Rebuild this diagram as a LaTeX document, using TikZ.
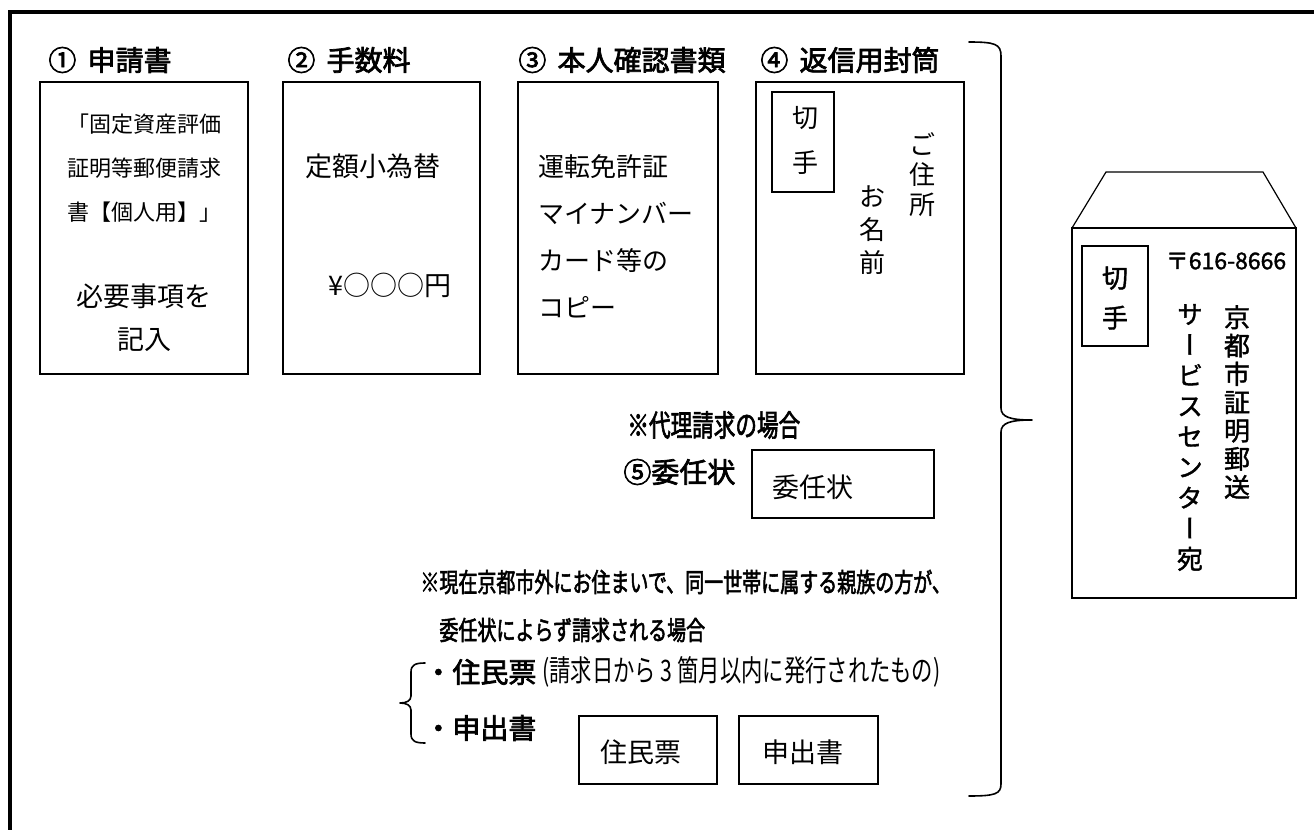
\documentclass[tikz,border=0pt]{standalone}
\usepackage{fontspec}
\setmainfont{Noto Sans CJK JP}
\newfontfamily\medfont{Noto Sans CJK JP}[FakeBold=2.5]
\newfontfamily\condfont{Noto Sans CJK JP}[FakeStretch=0.72]
\newfontfamily\condmedfont{Noto Sans CJK JP}[FakeStretch=0.72, FakeBold=2]
\newfontfamily\vertmedfont{Noto Sans CJK JP}[RawFeature=+vert, FakeBold=1.5]
\newfontfamily\envfont{Noto Sans CJK JP}[FakeBold=1.5]

\begin{document}
\begin{tikzpicture}[x=0.5pt, y=-0.5pt,
	thinbox/.style={line width=0.6pt},
	braceline/.style={line width=0.8pt, line cap=round, line join=round},
	head/.style={anchor=west, inner sep=0pt, font=\medfont\fontsize{14}{16}\selectfont},
	body/.style={inner sep=0pt, font=\fontsize{13.5}{16}\selectfont},
	note/.style={anchor=west, inner sep=0pt, font=\condmedfont\fontsize{13.2}{15}\selectfont},
	vcol/.style={inner sep=0pt, align=center},
]

% parameters %{{{2

	\def\boxtop{82}
	\def\boxbot{374}
	\def\headrow{60}

% bounding box, frame %{{{2

	\useasboundingbox (0,0) rectangle (1314,830);
	\draw[line width=2pt] (9.5,830) -- (9.5,12) -- (1314,12);

% documents 1--4 %{{{2

	\foreach \i/\xa/\xb/\xh/\lbl in {1/40/248/48/{①\hspace{0.4em}申請書}, 2/283/480/287/{②\hspace{0.4em}手数料},
			3/518/718/518/{③\hspace{0.4em}本人確認書類}, 4/756/964/760/{④\hspace{0.4em}返信用封筒}} {
		\draw[thinbox] (\xa,\boxtop) rectangle (\xb,\boxbot);
		\node[head] (head\i) at (\xh,\headrow) {\lbl};
	}

% document texts %{{{2

	\node[body, anchor=west, align=left, font=\fontsize{11}{22}\selectfont] (form) at (67,168) {「固定資産評価\\証明等郵便請求\\書【個人用】」};
	\node[body, align=center, font=\fontsize{13.5}{21.5}\selectfont] (fill) at (144,318) {必要事項を\\記入};

	\node[body, anchor=west] (order) at (305,166) {定額小為替};
	\node[body, anchor=west] (fee) at (328,285) {¥○○○円};

	\node[body, anchor=west, align=left, font=\fontsize{13}{23.5}\selectfont] (idcopy) at (538,236.5) {運転免許証\\マイナンバー\\カード等の\\コピー};

	\draw[thinbox] (772,92) rectangle (834,192);
	\node[vcol, font=\fontsize{13}{22.5}\selectfont] (stamp) at (805,140.5) {切\\手};
	\node[vcol, font=\fontsize{13}{15}\selectfont] (addr) at (922,175) {ご\\住\\所};
	\node[vcol, font=\fontsize{13}{16.5}\selectfont] (name) at (872,230) {お\\名\\前};

% big brace %{{{2

	\coordinate (btop) at (969,42);
	\coordinate (btip) at (1032,420);
	\coordinate (bbot) at (969,796);

	\draw[braceline] (btop) .. controls (995,42) and (1001,44) .. (1001,56)
		-- (1001,408) .. controls (1001,417) and (1010,420) .. (btip)
		.. controls (1010,420) and (1001,423) .. (1001,432)
		-- (1001,784) .. controls (1001,794) and (995,796) .. (bbot);

% envelope %{{{2

	\draw[thinbox] (1072,228) rectangle (1296,598);
	\draw[thinbox] (1072,228) -- (1106,172) -- (1263,172) -- (1296,228);
	\draw[thinbox] (1082,246) rectangle (1148,346);

	\node[vcol, font=\envfont\fontsize{13}{20}\selectfont] (envstamp) at (1115,298) {切\\手};
	\node[inner sep=0pt, font=\envfont\fontsize{11.5}{13}\selectfont] (zip) at (1226,261) {〒616-8666};
	\node[vcol, font=\envfont\fontsize{13}{14.15}\selectfont] (office) at (1237,402) {京\\都\\市\\証\\明\\郵\\送};
	\node[vcol, font=\vertmedfont\fontsize{13}{15.3}\selectfont] (centre) at (1190,437.5) {サ\\ー\\ビ\\ス\\セ\\ン\\タ\\ー\\宛};

% proxy %{{{2

	\node[note, font=\condmedfont\fontsize{15}{17}\selectfont] (proxy) at (627,425) {※代理請求の場合};
	\node[head] (head5) at (623,472) {⑤委任状};
	\draw[thinbox] (752,450) rectangle (934,518);
	\node[body, anchor=west] (letter) at (772,487) {委任状};

% family members %{{{2

	\node[note] (family) at (420,582) {※現在京都市外にお住まいで、同一世帯に属する親族の方が、};
	\node[note] (nolett) at (439,630) {委任状によらず請求される場合};

	\draw[braceline] (425,663) .. controls (415,663) and (411,665) .. (411,672)
		-- (411,696) .. controls (411,701) and (406,703) .. (400,703)
		.. controls (406,703) and (411,705) .. (411,710)
		-- (411,734) .. controls (411,741) and (415,743) .. (425,743);

	\node[head] (resident) at (424,672) {・住民票};
	\node[note, font=\condfont\fontsize{14.8}{16}\selectfont] (within) at (542,672) {(請求日から 3 箇月以内に発行されたもの)};
	\node[head] (request) at (424,728) {・申出書};

	\draw[thinbox] (579,716) rectangle (717,784);
	\node[body] (residentdoc) at (641,752) {住民票};
	\draw[thinbox] (739,716) rectangle (878,784);
	\node[body] (requestdoc) at (803,752) {申出書};

% closing %{{{2

\end{tikzpicture}
\end{document}
